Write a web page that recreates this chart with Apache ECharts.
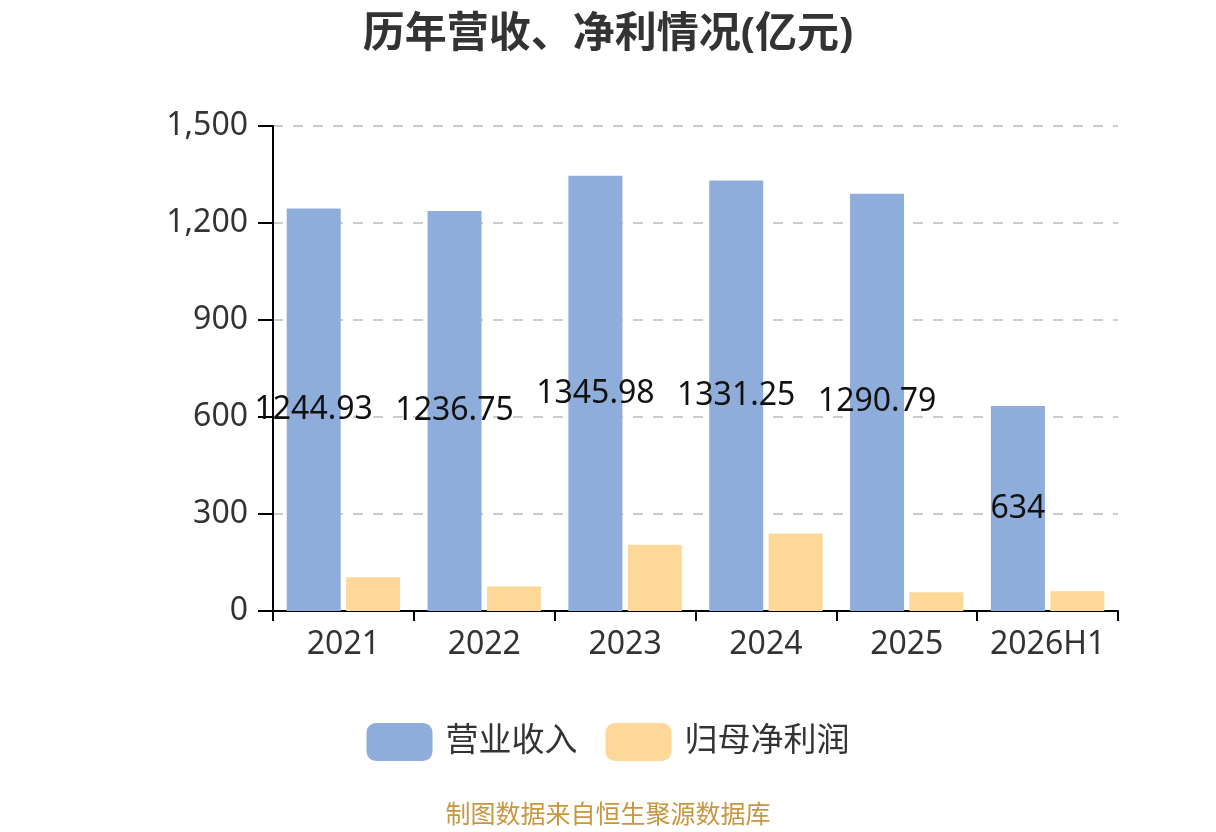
<!DOCTYPE html>
<html>
<head>
<meta charset="utf-8">
<script src="https://cdn.jsdelivr.net/npm/echarts@6/dist/echarts.min.js"></script>
<style>
    html, body { margin: 0; padding: 0; background: #fff; }
    #chart { width: 1216px; height: 832px; }
</style>
</head>
<body>
<div id="chart"></div>
<script>
// Chart data
var categories = ['2021', '2022', '2023', '2024', '2025', '2026H1'];
var revenue = [1244.93, 1236.75, 1345.98, 1331.25, 1290.79, 634];
var netProfit = [104, 76, 205, 240, 58, 61];
var seriesNames = ['营业收入', '归母净利润'];

var fontFamily = '"Noto Sans", "Noto Sans CJK SC", sans-serif';

var chart = echarts.init(document.getElementById('chart'));

chart.setOption({

    color: ['#8EADDA', '#FED899'],

    textStyle: {
        fontFamily: fontFamily
    },

    animation: false,

    // Title
    title: {
        text: '历年营收、净利情况(亿元)',
        left: 'center',
        top: 9,
        textStyle: {
            fontSize: 42,
            fontWeight: 'bold',
            color: '#333',
            fontFamily: fontFamily
        }
    },

    // Footer note
    graphic: [{
        type: 'text',
        left: 'center',
        top: 803,
        style: {
            text: '制图数据来自恒生聚源数据库',
            fill: '#C8963E',
            fontSize: 25,
            fontFamily: fontFamily
        }
    }],

    grid: {
        left: 273,
        right: 98,
        top: 126,
        bottom: 221
    },

    legend: {
        data: seriesNames,
        bottom: 66,
        left: 'center',
        itemWidth: 66,
        itemHeight: 38,
        itemGap: 28,
        icon: 'roundRect',
        textStyle: {
            fontSize: 33,
            color: '#333',
            padding: [0, 0, 0, 8],
            fontFamily: fontFamily
        }
    },

    xAxis: [{
        type: 'category',
        data: categories,
        axisLine: {
            lineStyle: { color: '#000', width: 2 }
        },
        axisTick: {
            show: true,
            length: 10,
            lineStyle: { color: '#000', width: 2 }
        },
        axisLabel: {
            interval: 0,
            fontSize: 32,
            color: '#333',
            margin: 18
        }
    }],

    yAxis: [{
        type: 'value',
        min: 0,
        max: 1500,
        interval: 300,
        axisLine: {
            show: true,
            lineStyle: { color: '#000', width: 2 }
        },
        axisTick: {
            show: true,
            length: 15,
            lineStyle: { color: '#000', width: 2 }
        },
        axisLabel: {
            fontSize: 32,
            color: '#333',
            margin: 25
        },
        splitLine: {
            lineStyle: {
                color: '#ccc',
                type: [10, 10],
                width: 2
            }
        }
    }],

    series: [
        {
            name: seriesNames[0],
            type: 'bar',
            data: revenue,
            barWidth: 54,
            barGap: '10%',
            label: {
                show: true,
                position: 'inside',
                fontSize: 32,
                color: '#111'
            }
        },
        {
            name: seriesNames[1],
            type: 'bar',
            data: netProfit,
            barWidth: 54,
            barGap: '10%'
        }
    ]
});
</script>
</body>
</html>
